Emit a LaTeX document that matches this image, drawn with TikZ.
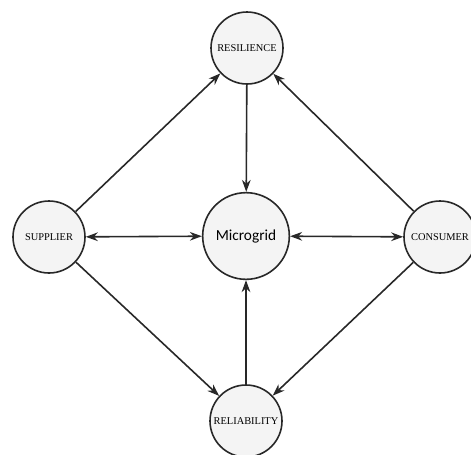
\documentclass[tikz,border=0pt]{standalone}
\usepackage{fontspec}
\setmainfont{Liberation Serif}
\newfontfamily\gridfont{Carlito}
\usetikzlibrary{arrows.meta}

\tikzset{every picture/.style={line width=0.75pt}}
\tikzset{
  ring/.style={circle, draw={rgb, 255:red, 40; green, 40; blue, 40}, line width=1.2pt, fill={rgb, 255:red, 244; green, 244; blue, 244}, inner sep=0.75pt, minimum size=54pt, font=\fontsize{7.8}{9}\selectfont},
  link/.style={draw={rgb, 255:red, 40; green, 40; blue, 40}, line width=1.2pt, -{Stealth[length=9pt,width=6.5pt]}},
  twolink/.style={link, {Stealth[length=9pt,width=6.5pt]}-{Stealth[length=9pt,width=6.5pt]}}
}

\begin{document}
\begin{tikzpicture}[x=0.75pt,y=0.75pt,yscale=-1,xscale=1]
\useasboundingbox (0,0) rectangle (471,454);

%Shape: Circle [id:resilience]
\node [ring] (resil) at (247,48) {RESILIENCE};
%Shape: Circle [id:supplier]
\node [ring] (suppl) at (49,237) {SUPPLIER};
%Shape: Circle [id:grid]
\node [ring, minimum size=65pt, font=\gridfont\fontsize{11.5}{13}\selectfont] (grid) at (246,236) {Microgrid};
%Shape: Circle [id:consumer]
\node [ring] (consu) at (440,237) {CONSUMER};
%Shape: Circle [id:reliability]
\node [ring] (relia) at (246,421) {RELIABILITY};

%Straight Lines
\draw [link] (resil) -- (grid) ;
\draw [link] (relia) -- (grid) ;
\draw [twolink] (suppl) -- (grid) ;
\draw [twolink] (grid) -- (consu) ;
\draw [link] (suppl) -- (resil) ;
\draw [link] (consu) -- (resil) ;
\draw [link] (suppl) -- (relia) ;
\draw [link] (consu) -- (relia) ;

\end{tikzpicture}
\end{document}
